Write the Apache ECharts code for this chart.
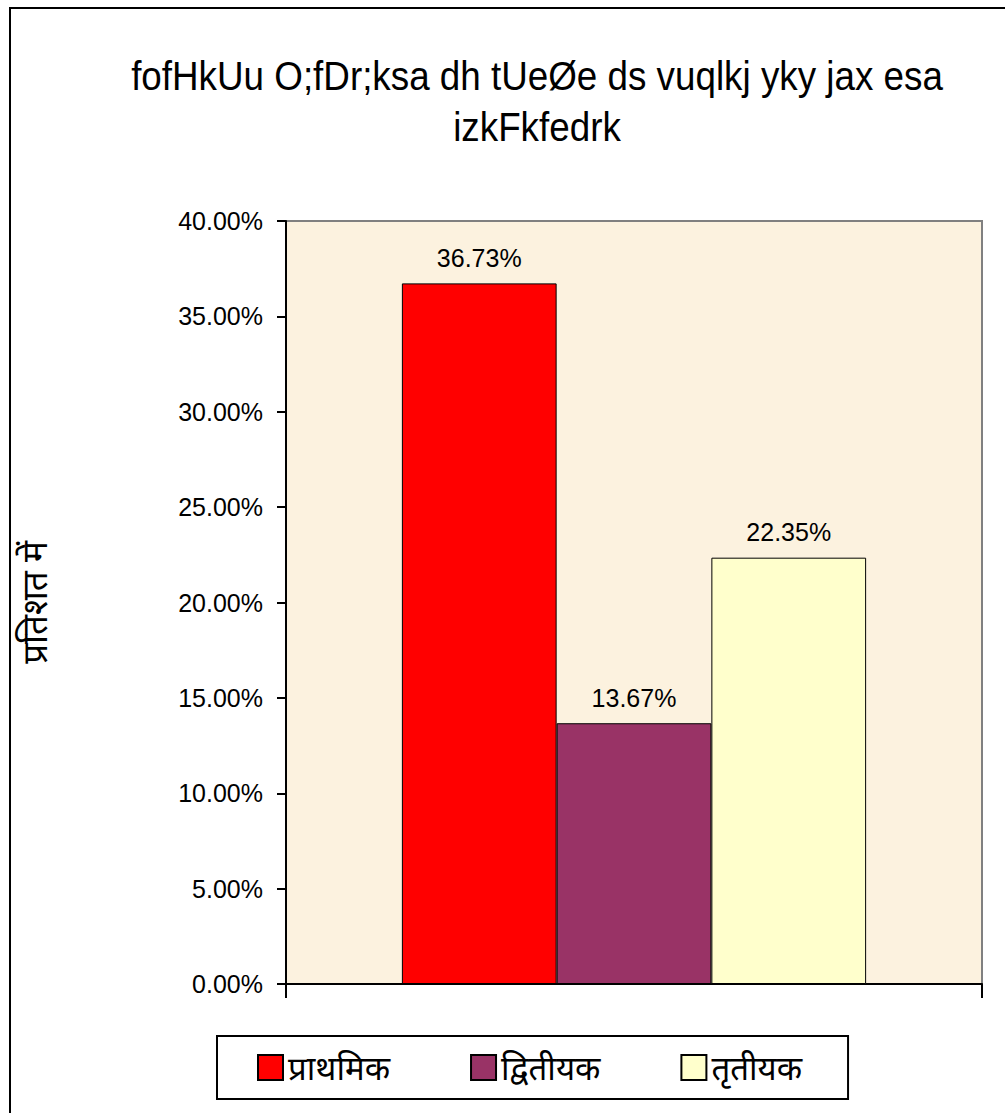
<!DOCTYPE html>
<html>
<head>
<meta charset="utf-8">
<script src="https://cdn.jsdelivr.net/npm/echarts@6/dist/echarts.min.js"></script>
<style>
  html, body { margin: 0; padding: 0; background: #fff; overflow: hidden; }
  #frame { position: absolute; left: 9px; top: 7px; width: 1200px; height: 1200px; border: 2px solid #000; }
  #chart { position: absolute; left: 0; top: 0; width: 1005px; height: 1113px; }
</style>
</head>
<body>
<div id="frame"></div>
<div id="chart"></div>
<script>
// chart data
const titleLines = ['fofHkUu O;fDr;ksa dh tUeØe ds vuqlkj yky jax esa', 'izkFkfedrk'];
const yAxisName = 'प्रतिशत में';
const seriesNames = ['प्राथमिक', 'द्वितीयक', 'तृतीयक'];
const seriesValues = [36.73, 13.67, 22.35];
const seriesColors = ['#ff0000', '#993366', '#ffffcc'];
const yMin = 0;
const yMax = 40;
const yStep = 5;

const chart = echarts.init(document.getElementById('chart'), null, { renderer: 'svg' });

const labelFont = 'Liberation Sans, Arial, sans-serif';

const series = seriesNames.map((name, i) => ({
  name: name,
  type: 'bar',
  data: [seriesValues[i]],
  barGap: '0%',
  barCategoryGap: '33.3%',
  itemStyle: {
    color: seriesColors[i],
    borderColor: '#000',
    borderWidth: 1
  },
  label: {
    show: true,
    position: 'top',
    distance: 13,
    color: '#000',
    fontFamily: labelFont,
    fontSize: 25,
    formatter: (p) => p.value.toFixed(2) + '%'
  }
}));

const option = {
  animation: false,
  backgroundColor: 'transparent',
  graphic: [
    {
      type: 'text',
      x: 537,
      y: 50,
      scaleX: 0.92,
      style: {
        text: titleLines.join('\n'),
        font: '40px "Liberation Sans", sans-serif',
        lineHeight: 51,
        fill: '#000',
        textAlign: 'center',
        textVerticalAlign: 'top'
      }
    }
  ],
  grid: {
    left: 286,
    top: 221,
    right: 23,
    bottom: 129,
    show: true,
    backgroundColor: '#fcf2df',
    borderColor: '#808080',
    borderWidth: 2
  },
  legend: {
    data: seriesNames,
    left: 217,
    top: 1036,
    padding: [15, 46, 15, 40],
    itemWidth: 25,
    itemHeight: 25,
    itemGap: 80,
    borderColor: '#000',
    borderWidth: 2,
    backgroundColor: '#fff',
    icon: 'rect',
    textStyle: {
      color: '#000',
      fontSize: 33,
      fontFamily: 'Noto Sans, sans-serif'
    }
  },
  xAxis: {
    type: 'category',
    data: [''],
    axisLine: { lineStyle: { color: '#000', width: 2 } },
    axisTick: { show: true, length: 14, lineStyle: { color: '#000', width: 2 } },
    axisLabel: { show: false },
    splitLine: { show: false }
  },
  yAxis: {
    type: 'value',
    min: yMin,
    max: yMax,
    interval: yStep,
    name: yAxisName,
    nameLocation: 'middle',
    nameRotate: 90,
    nameGap: 235,
    nameTextStyle: { color: '#000', fontSize: 35, fontFamily: 'Noto Sans, sans-serif' },
    axisLine: { show: true, lineStyle: { color: '#000', width: 2 } },
    axisTick: { show: true, length: 9, lineStyle: { color: '#000', width: 2 } },
    axisLabel: {
      margin: 23,
      color: '#000',
      fontSize: 25,
      fontFamily: labelFont,
      formatter: (v) => v.toFixed(2) + '%'
    },
    splitLine: { show: false }
  },
  series: series
};

chart.setOption(option);
</script>
</body>
</html>
